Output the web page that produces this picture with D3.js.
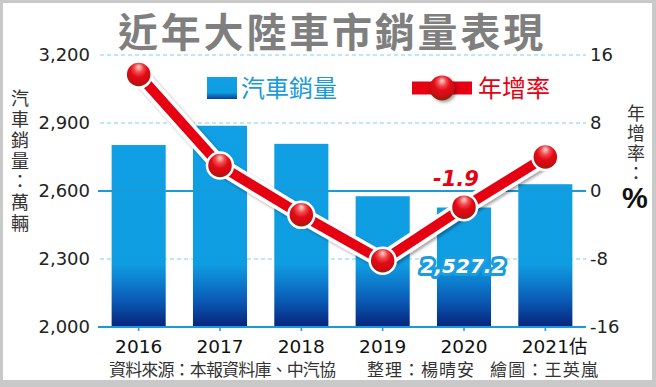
<!DOCTYPE html>
<html><head><meta charset="utf-8">
<script src="https://cdn.jsdelivr.net/npm/d3@7/dist/d3.min.js"></script>
<style>
html,body{margin:0;padding:0;background:#fff;}
svg{display:block;}
</style></head>
<body>
<svg id="chart" width="656" height="387"></svg>
<script>
const years = ["2016","2017","2018","2019","2020","2021"];
const yearLabels = ["2016","2017","2018","2019","2020","2021估"];
const sales = [2802.8, 2887.9, 2808.1, 2576.9, 2527.2, 2630];
const growth = [13.7, 3.0, -2.8, -8.2, -1.9, 4.0];
const leftTicks = [2000, 2300, 2600, 2900, 3200];
const rightTicks = [-16, -8, 0, 8, 16];
const titleText = "近年大陸車市銷量表現";
const leftTitle = "汽車銷量：萬輛";
const rightTitle = "年增率：";
const legendBar = "汽車銷量";
const legendLine = "年增率";
const sourceParts = ["資料來源：本報資料庫、中汽協", "整理：楊晴安", "繪圖：王英嵐"];

const CJK = "'Noto Sans CJK TC','Noto Sans CJK SC',sans-serif";
const NUM = "'DejaVu Sans',sans-serif";
const RED = "#e50012", BLUE = "#1a9ad8";
const hy = f => d => f(d).replace("\u2212", "-");

const svg = d3.select("#chart");
const defs = svg.append("defs");

// frame
svg.append("rect").attr("width", 656).attr("height", 387).attr("fill", "#c9c9c9");
svg.append("rect").attr("x", 3).attr("y", 3).attr("width", 649).attr("height", 377).attr("fill", "#fff");

const x = d3.scaleBand().domain(years).range([98, 586]).paddingInner(0.335).paddingOuter(0.1675);
const yL = d3.scaleLinear().domain([2000, 3200]).range([327, 55]);
const yR = d3.scaleLinear().domain([-16, 16]).range([327, 55]);
const cx = d => x(d) + x.bandwidth() / 2;

// gradients
const bg = defs.append("linearGradient").attr("id", "barGrad")
  .attr("gradientUnits", "userSpaceOnUse").attr("x1", 0).attr("y1", yL(3200)).attr("x2", 0).attr("y2", yL(2000));
[[0, "#12a1e6"], [0.77, "#0f9de2"], [0.9, "#0a5cb6"], [1, "#06237a"]].forEach(s =>
  bg.append("stop").attr("offset", s[0]).attr("stop-color", s[1]));
const lg = defs.append("linearGradient").attr("id", "legGrad").attr("x1", 0).attr("y1", 0).attr("x2", 0).attr("y2", 1);
[[0, "#12a1e6"], [0.7, "#0f9de2"], [1, "#0a3f98"]].forEach(s =>
  lg.append("stop").attr("offset", s[0]).attr("stop-color", s[1]));
const sg = defs.append("radialGradient").attr("id", "ballGrad")
  .attr("cx", "50%").attr("cy", "35%").attr("r", "60%").attr("fx", "50%").attr("fy", "20%");
[[0, "#ffd9d2"], [0.3, "#f0484c"], [0.55, "#e20a14"], [0.85, "#cc0a12"], [1, "#8a2810"]].forEach(s =>
  sg.append("stop").attr("offset", s[0]).attr("stop-color", s[1]));
const sh = defs.append("filter").attr("id", "shadow").attr("x", "-20%").attr("y", "-20%").attr("width", "140%").attr("height", "140%");
sh.append("feDropShadow").attr("dx", 2).attr("dy", 2).attr("stdDeviation", 1.5).attr("flood-color", "#000").attr("flood-opacity", 0.35);

// title
svg.append("text").attr("x", 332).attr("y", 47).attr("text-anchor", "middle")
  .attr("font-family", CJK).attr("font-weight", 700).attr("font-size", 40)
  .attr("letter-spacing", 2.8).attr("fill", "#7f7f7f").text(titleText);

// dashed grid
const gx0 = 100, gx1 = 586;
svg.append("g").selectAll("line").data(leftTicks.filter(d => d !== 2000 && d !== 2600)).join("line")
  .attr("x1", gx0).attr("x2", gx1).attr("y1", d => yL(d)).attr("y2", d => yL(d))
  .attr("stroke", "#7fcfee").attr("stroke-width", 1).attr("stroke-dasharray", "4,3");

// bars
svg.append("g").selectAll("rect").data(years).join("rect")
  .attr("x", d => x(d)).attr("width", x.bandwidth())
  .attr("y", (d, i) => yL(sales[i])).attr("height", (d, i) => yL(2000) - yL(sales[i]))
  .attr("fill", "url(#barGrad)");

// zero line (2600 / 0%)
svg.append("line").attr("x1", gx0 - 2).attr("x2", gx1).attr("y1", yR(0)).attr("y2", yR(0))
  .attr("stroke", BLUE).attr("stroke-width", 2);
// baseline
svg.append("line").attr("x1", gx0 - 2).attr("x2", gx1).attr("y1", yL(2000)).attr("y2", yL(2000))
  .attr("stroke", BLUE).attr("stroke-width", 2);

// left axis
const axL = svg.append("g").attr("transform", `translate(${gx0},0)`)
  .call(d3.axisLeft(yL).tickValues(leftTicks).tickFormat(d3.format(",")).tickSize(0).tickPadding(10));
axL.select(".domain").remove();
axL.selectAll("text").attr("font-family", NUM).attr("font-size", 18).attr("fill", "#222");

// right axis
const axR = svg.append("g").attr("transform", `translate(${gx1},0)`)
  .call(d3.axisRight(yR).tickValues(rightTicks).tickFormat(hy(d3.format("d"))).tickSize(0).tickPadding(4));
axR.select(".domain").remove();
axR.selectAll("text").attr("font-family", NUM).attr("font-size", 18).attr("fill", "#222");

// x axis
const axX = svg.append("g").attr("transform", `translate(0,${yL(2000)})`)
  .call(d3.axisBottom(x).tickSize(4).tickPadding(9).tickFormat(() => ""));
axX.select(".domain").remove();
axX.selectAll("line").attr("stroke", BLUE).attr("stroke-width", 1.5);
axX.selectAll(".tick text").each(function (d, i) {
  const t = d3.select(this);
  t.attr("font-family", NUM).attr("font-size", 18.5).attr("fill", "#111");
  const lab = yearLabels[i];
  const num = lab.replace(/[^0-9]/g, "");
  const suf = lab.slice(num.length);
  t.text(null);
  t.append("tspan").text(num);
  if (suf) {
    t.attr("text-anchor", "start").attr("x", -23.5);
    t.append("tspan").attr("font-family", CJK).text(suf);
  }
});

// line with outline
const line = d3.line().x((d, i) => cx(years[i])).y(d => yR(d));
svg.append("path").datum(growth).attr("d", line).attr("fill", "none")
  .attr("stroke", "#fff").attr("stroke-width", 17).attr("stroke-linejoin", "round").attr("filter", "url(#shadow)");
svg.append("path").datum(growth).attr("d", line).attr("fill", "none")
  .attr("stroke", RED).attr("stroke-width", 10).attr("stroke-linejoin", "round");

// markers
svg.append("g").selectAll("circle").data(growth).join("circle")
  .attr("cx", (d, i) => cx(years[i])).attr("cy", d => yR(d)).attr("r", 13)
  .attr("fill", "url(#ballGrad)").attr("stroke", "#fff").attr("stroke-width", 2.5);

// annotations
const ai = 4;
svg.append("text").attr("x", cx(years[ai]) - 8).attr("y", yR(growth[ai]) - 21)
  .attr("text-anchor", "middle").attr("font-family", NUM).attr("font-weight", 700)
  .attr("font-style", "italic").attr("font-size", 21).attr("fill", RED).text(hy(d3.format(".1f"))(growth[ai]));
svg.append("text").attr("x", cx(years[ai]) - 1).attr("y", 273)
  .attr("text-anchor", "middle").attr("font-family", NUM).attr("font-weight", 700)
  .attr("font-style", "italic").attr("font-size", 20).attr("fill", "#fff")
  .attr("stroke", "#1a9ce0").attr("stroke-width", 6).attr("stroke-linejoin", "round")
  .attr("paint-order", "stroke").text(d3.format(",.1f")(sales[ai]));

// legend
svg.append("rect").attr("x", 207).attr("y", 77).attr("width", 30).attr("height", 22).attr("fill", "url(#legGrad)");
svg.append("text").attr("x", 241).attr("y", 97).attr("font-family", CJK).attr("font-size", 24)
  .attr("fill", BLUE).text(legendBar);
svg.append("line").attr("x1", 412).attr("x2", 472).attr("y1", 88).attr("y2", 88)
  .attr("stroke", RED).attr("stroke-width", 13);
svg.append("circle").attr("cx", 442).attr("cy", 88).attr("r", 12.5).attr("fill", "url(#ballGrad)")
  .attr("filter", "url(#shadow)");
svg.append("text").attr("x", 478).attr("y", 97).attr("font-family", CJK).attr("font-size", 24)
  .attr("fill", RED).text(legendLine);

// vertical axis titles
const vt = (chars, xx, y0, ls) => svg.append("text").attr("x", xx).attr("y", y0)
  .style("writing-mode", "vertical-rl").style("text-orientation", "upright")
  .attr("letter-spacing", ls).attr("font-family", CJK).attr("font-size", 18)
  .attr("fill", "#333").text(chars);
vt(leftTitle, 20, 89, 2.9);
vt(rightTitle, 636, 104, 2);
svg.append("text").attr("x", 635).attr("y", 208).attr("text-anchor", "middle")
  .attr("font-family", "'Liberation Sans',sans-serif").attr("font-weight", 700).attr("font-size", 29)
  .attr("fill", "#111").text("%");

// source
const srcX = [109, 367, 490], srcW = [227, 107, 108];
svg.append("g").selectAll("text").data(sourceParts).join("text")
  .attr("x", (d, i) => srcX[i]).attr("y", 376)
  .attr("textLength", (d, i) => srcW[i]).attr("lengthAdjust", "spacing")
  .attr("font-family", CJK).attr("font-size", 17).attr("fill", "#333").text(d => d);
</script>
</body></html>
